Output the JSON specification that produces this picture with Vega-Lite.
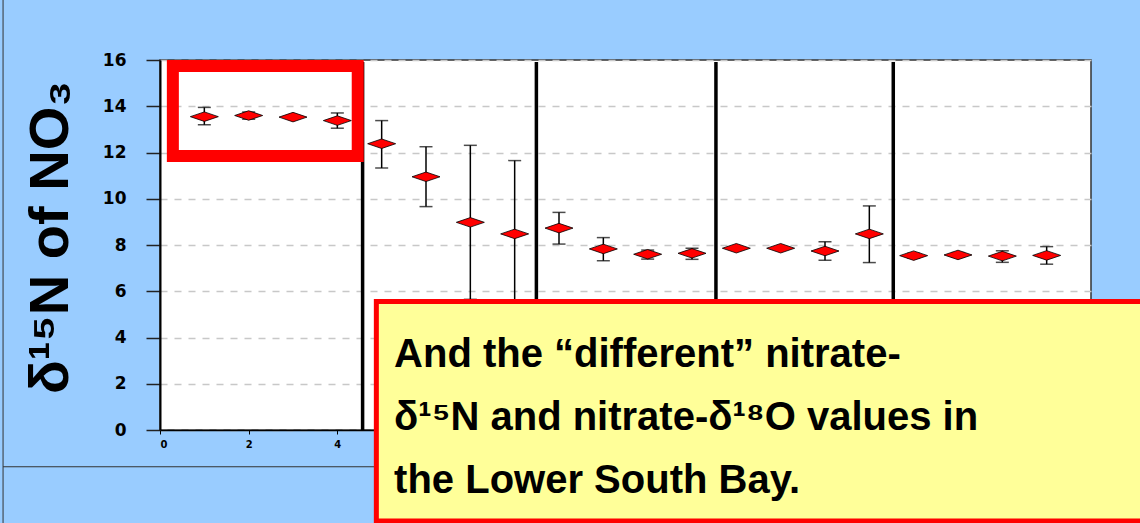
{
  "$schema": "https://vega.github.io/schema/vega-lite/v6.json",
  "autosize": {"type": "none"},
  "padding": {"left": 160, "top": 60, "right": 49, "bottom": 93},
  "width": 931,
  "height": 370,
  "background": "#99CCFF",
  "config": {
    "view": {"fill": "#FFFFFF", "stroke": "#333333", "strokeWidth": 1.5}
  },
  "datasets": {
    "points": [
      {"site": 1, "d15N": 13.55, "lo": 13.2, "hi": 13.95},
      {"site": 2, "d15N": 13.6, "lo": 13.44, "hi": 13.75},
      {"site": 3, "d15N": 13.53, "lo": 13.48, "hi": 13.58},
      {"site": 4, "d15N": 13.38, "lo": 13.05, "hi": 13.71},
      {"site": 5, "d15N": 12.38, "lo": 11.33, "hi": 13.38},
      {"site": 6, "d15N": 10.95, "lo": 9.66, "hi": 12.25},
      {"site": 7, "d15N": 8.98, "lo": 5.65, "hi": 12.31},
      {"site": 8, "d15N": 8.48, "lo": 5.3, "hi": 11.65},
      {"site": 9, "d15N": 8.73, "lo": 8.04, "hi": 9.41},
      {"site": 10, "d15N": 7.83, "lo": 7.32, "hi": 8.32},
      {"site": 11, "d15N": 7.6, "lo": 7.39, "hi": 7.78},
      {"site": 12, "d15N": 7.64, "lo": 7.38, "hi": 7.86},
      {"site": 13, "d15N": 7.86, "lo": 7.81, "hi": 7.91},
      {"site": 14, "d15N": 7.86, "lo": 7.81, "hi": 7.91},
      {"site": 15, "d15N": 7.74, "lo": 7.34, "hi": 8.14},
      {"site": 16, "d15N": 8.48, "lo": 7.24, "hi": 9.69},
      {"site": 17, "d15N": 7.54, "lo": 7.44, "hi": 7.64},
      {"site": 18, "d15N": 7.57, "lo": 7.47, "hi": 7.67},
      {"site": 19, "d15N": 7.52, "lo": 7.25, "hi": 7.75},
      {"site": 20, "d15N": 7.55, "lo": 7.17, "hi": 7.93}
    ],
    "separators": [
      {"x": 4.57, "ybot": 0, "ytop": 15.91},
      {"x": 8.49, "ybot": 0, "ytop": 15.91},
      {"x": 12.54, "ybot": 0, "ytop": 15.91},
      {"x": 16.54, "ybot": 0, "ytop": 15.91}
    ],
    "one": [{}]
  },
  "layer": [
    {
      "data": {"name": "points"},
      "mark": {"type": "rule", "stroke": "#000000", "strokeWidth": 1.5},
      "encoding": {
        "x": {
          "field": "site", "type": "quantitative",
          "scale": {"domain": [0, 21], "nice": false, "zero": false},
          "axis": {
            "title": null, "values": [0, 2, 4, 6, 8, 10, 12, 14, 16, 18, 20],
            "grid": false, "domainColor": "#000000", "domainWidth": 1.5,
            "tickColor": "#000000", "tickSize": 4, "tickWidth": 1,
            "labelFont": "DejaVu Sans", "labelFontWeight": "bold", "labelFontSize": 10,
            "labelColor": "#000000", "labelPadding": 5
          }
        },
        "y": {
          "field": "lo", "type": "quantitative",
          "scale": {"domain": [0, 16], "nice": false, "zero": false},
          "axis": {
            "title": "δ¹⁵N of NO₃",
            "titleFont": "Liberation Sans", "titleFontWeight": "bold", "titleFontSize": 56,
            "titleColor": "#000000", "titleAngle": -90, "titleBaseline": "alphabetic",
            "titleAnchor": "middle", "titleX": -93, "titleY": 177, "titleAlign": "center",
            "values": [0, 2, 4, 6, 8, 10, 12, 14, 16],
            "grid": true, "gridColor": "#C8C8C8", "gridDash": [7, 7], "gridWidth": 1.5,
            "domainColor": "#000000", "domainWidth": 2,
            "tickColor": "#222222", "tickSize": 14, "tickWidth": 1.5,
            "labelFont": "DejaVu Sans", "labelFontWeight": "bold", "labelFontSize": 17,
            "labelColor": "#000000", "labelPadding": 20
          }
        },
        "y2": {"field": "hi"}
      }
    },
    {
      "data": {"name": "points"},
      "mark": {"type": "tick", "orient": "horizontal", "color": "#000000", "size": 13, "thickness": 1.5},
      "encoding": {
        "x": {"field": "site", "type": "quantitative", "scale": {"domain": [0, 21], "nice": false, "zero": false}},
        "y": {"field": "lo", "type": "quantitative", "scale": {"domain": [0, 16], "nice": false, "zero": false}}
      }
    },
    {
      "data": {"name": "points"},
      "mark": {"type": "tick", "orient": "horizontal", "color": "#000000", "size": 13, "thickness": 1.5},
      "encoding": {
        "x": {"field": "site", "type": "quantitative", "scale": {"domain": [0, 21], "nice": false, "zero": false}},
        "y": {"field": "hi", "type": "quantitative", "scale": {"domain": [0, 16], "nice": false, "zero": false}}
      }
    },
    {
      "data": {"name": "separators"},
      "mark": {"type": "rule", "stroke": "#000000", "strokeWidth": 3.5},
      "encoding": {
        "x": {"field": "x", "type": "quantitative", "scale": {"domain": [0, 21], "nice": false, "zero": false}},
        "y": {"field": "ybot", "type": "quantitative", "scale": {"domain": [0, 16], "nice": false, "zero": false}},
        "y2": {"field": "ytop"}
      }
    },
    {
      "data": {"name": "points"},
      "mark": {
        "type": "point", "shape": "M-1,0L0,-0.34L1,0L0,0.34Z", "size": 784,
        "filled": true, "fill": "#FF0000", "stroke": "#000000", "strokeWidth": 0.8, "opacity": 1
      },
      "encoding": {
        "x": {"field": "site", "type": "quantitative", "scale": {"domain": [0, 21], "nice": false, "zero": false}},
        "y": {"field": "d15N", "type": "quantitative", "scale": {"domain": [0, 16], "nice": false, "zero": false}}
      }
    },
    {
      "data": {"name": "one"},
      "mark": {"type": "rect", "stroke": "#FF0000", "strokeWidth": 12, "fillOpacity": 0, "fill": "#FFFFFF"},
      "encoding": {
        "x": {"datum": 0.29, "type": "quantitative", "scale": {"domain": [0, 21], "nice": false, "zero": false}},
        "x2": {"datum": 4.46},
        "y": {"datum": 15.74, "type": "quantitative", "scale": {"domain": [0, 16], "nice": false, "zero": false}},
        "y2": {"datum": 11.85}
      }
    },
    {
      "data": {"name": "one"},
      "mark": {"type": "rule", "stroke": "#333333", "strokeWidth": 1},
      "encoding": {
        "x": {"datum": -3.54, "type": "quantitative", "scale": {"domain": [0, 21], "nice": false, "zero": false}},
        "y": {"datum": 18.6, "type": "quantitative", "scale": {"domain": [0, 16], "nice": false, "zero": false}},
        "y2": {"datum": -4.1}
      }
    },
    {
      "data": {"name": "one"},
      "mark": {"type": "rule", "stroke": "#333333", "strokeWidth": 1.2},
      "encoding": {
        "x": {"datum": -3.54, "type": "quantitative", "scale": {"domain": [0, 21], "nice": false, "zero": false}},
        "x2": {"datum": 4.85},
        "y": {"datum": -1.59, "type": "quantitative", "scale": {"domain": [0, 16], "nice": false, "zero": false}}
      }
    },
    {
      "data": {"name": "one"},
      "mark": {"type": "rect", "stroke": "#FF0000", "strokeWidth": 5, "fill": "#FFFF99"},
      "encoding": {
        "x": {"datum": 4.88, "type": "quantitative", "scale": {"domain": [0, 21], "nice": false, "zero": false}},
        "x2": {"datum": 23},
        "y": {"datum": 5.56, "type": "quantitative", "scale": {"domain": [0, 16], "nice": false, "zero": false}},
        "y2": {"datum": -3.94}
      }
    },
    {
      "data": {"name": "one"},
      "mark": {
        "type": "text",
        "text": ["And the “different” nitrate-", "δ¹⁵N and nitrate-δ¹⁸O values in", "the Lower South Bay."],
        "font": "Liberation Sans, Arial, sans-serif", "fontWeight": "bold", "fontSize": 40,
        "lineHeight": 63, "align": "left", "baseline": "alphabetic", "color": "#000000"
      },
      "encoding": {
        "x": {"datum": 5.28, "type": "quantitative", "scale": {"domain": [0, 21], "nice": false, "zero": false}},
        "y": {"datum": 2.71, "type": "quantitative", "scale": {"domain": [0, 16], "nice": false, "zero": false}}
      }
    }
  ]
}
